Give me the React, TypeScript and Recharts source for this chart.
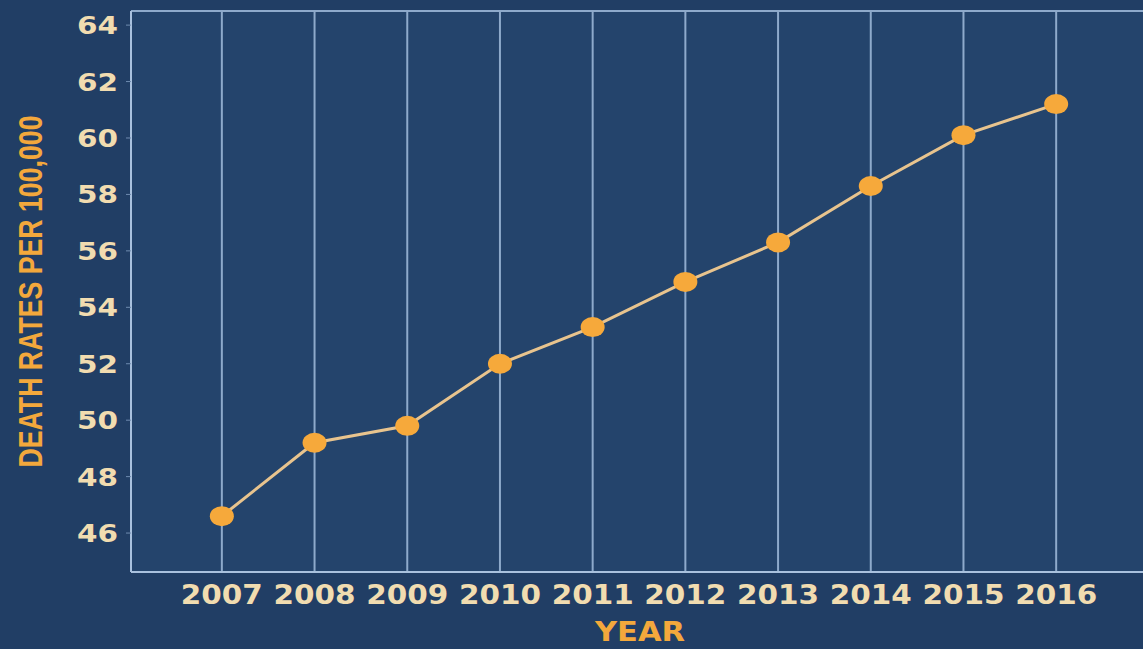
import { LineChart, Line, XAxis, YAxis, CartesianGrid, ReferenceLine, Label } from 'recharts';

const years = [2007, 2008, 2009, 2010, 2011, 2012, 2013, 2014, 2015, 2016];
const deathRates = [46.6, 49.2, 49.8, 52.0, 53.3, 54.9, 56.3, 58.3, 60.1, 61.2];
const yTicks = [46, 48, 50, 52, 54, 56, 58, 60, 62, 64];

const data = years.map((year, i) => ({ year, rate: deathRates[i] }));

const TICK_COLOR = '#f1dcb0';
const LABEL_COLOR = '#f3a83c';
const GRID_COLOR = '#8eaacb';
const FONT = '"DejaVu Sans", sans-serif';

// the reference uses a wide bold face, so the tick text is stretched to the measured width
function XTick({ x, y, payload }: any) {
    return (
        <text x={x} y={y + 30} textAnchor="middle" fill={TICK_COLOR} fontFamily={FONT} fontWeight="bold"
            fontSize={26} textLength={82} lengthAdjust="spacingAndGlyphs">
            {payload.value}
        </text>
    );
}

function YTick({ x, y, payload }: any) {
    return (
        <text x={x} y={y + 9} textAnchor="end" fill={TICK_COLOR} fontFamily={FONT} fontWeight="bold"
            fontSize={25} textLength={41} lengthAdjust="spacingAndGlyphs">
            {payload.value}
        </text>
    );
}

function Dot({ cx, cy }: any) {
    return <ellipse cx={cx} cy={cy} rx={12} ry={10} fill="#f6a93b" />;
}

function YLabel({ viewBox }: any) {
    const cy = viewBox.y + viewBox.height / 2;
    return (
        <text x={0} y={0} transform={`translate(42, ${cy}) rotate(-90)`} textAnchor="middle" fill={LABEL_COLOR}
            fontFamily='"Liberation Sans", sans-serif' fontWeight="bold" fontSize={33} textLength={352}
            lengthAdjust="spacingAndGlyphs">
            DEATH RATES PER 100,000
        </text>
    );
}

function XLabel() {
    return (
        <text x={640} y={641} textAnchor="middle" fill={LABEL_COLOR} fontFamily={FONT} fontWeight="bold"
            fontSize={26} textLength={90} lengthAdjust="spacingAndGlyphs">
            YEAR
        </text>
    );
}

export default function App() {
    return (
        <div style={{ position: 'absolute', left: 0, top: 0, width: 1143, height: 649, background: '#213e65', overflow: 'hidden' }}>
            <LineChart width={1160} height={649} data={data} margin={{ top: 11, right: 0, left: 0, bottom: 0 }}>
                <CartesianGrid horizontal={false} stroke={GRID_COLOR} strokeWidth={2} fill="#24446c" />
                <XAxis
                    dataKey="year"
                    type="number"
                    domain={[2006.02, 2017.12]}
                    ticks={years}
                    allowDataOverflow
                    height={77}
                    tickSize={0}
                    tick={<XTick />}
                    axisLine={{ stroke: '#a9c1de', strokeWidth: 2 }}
                >
                    <Label content={<XLabel />} />
                </XAxis>
                <YAxis
                    type="number"
                    domain={[44.62, 64.5]}
                    ticks={yTicks}
                    allowDataOverflow
                    width={131}
                    tickSize={5}
                    tickMargin={8}
                    tick={<YTick />}
                    tickLine={{ stroke: '#6f8bb0' }}
                    axisLine={{ stroke: '#a9c1de', strokeWidth: 2 }}
                >
                    <Label content={<YLabel />} />
                </YAxis>
                <ReferenceLine y={64.5} stroke={GRID_COLOR} strokeWidth={2} />
                <Line
                    type="linear"
                    dataKey="rate"
                    stroke="#e8c48e"
                    strokeWidth={3}
                    dot={<Dot />}
                    activeDot={false}
                    isAnimationActive={false}
                />
            </LineChart>
        </div>
    );
}
